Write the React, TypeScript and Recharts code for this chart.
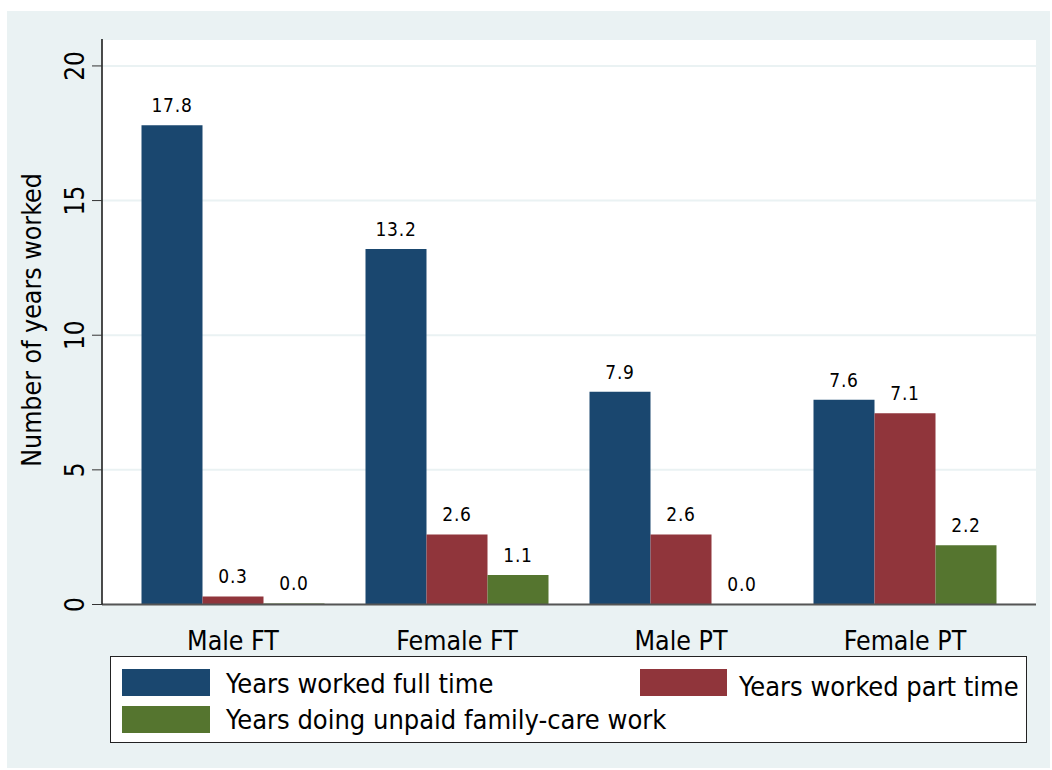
import { BarChart, Bar, XAxis, YAxis, CartesianGrid, LabelList } from 'recharts';

const categories = ['Male FT', 'Female FT', 'Male PT', 'Female PT'];
const fullTime = [17.8, 13.2, 7.9, 7.6];
const partTime = [0.3, 2.6, 2.6, 7.1];
// near-zero values read as 0.0 in the picture (a sliver is visible for Male FT)
const unpaidCare = [0.04, 1.1, 0.001, 2.2];
const yTicks = [0, 5, 10, 15, 20];

const COLORS = {
  full: '#1A476F',
  part: '#90353B',
  care: '#55752F',
  bg: '#EAF2F3',
};

const FONT = '"DejaVu Sans Condensed", "Liberation Sans", sans-serif';

const data = categories.map((name, i) => ({
  name,
  full: fullTime[i],
  part: partTime[i],
  care: unpaidCare[i],
}));

const fmt = (v: number) => v.toFixed(1);

const YTick = ({ y, payload }: any) => (
  <g>
    <text
      x={68}
      y={y}
      transform={`rotate(-90, 68, ${y})`}
      textAnchor="middle"
      dominantBaseline="central"
      fontFamily={FONT}
      fontSize={26}
      fill="#000"
    >
      {payload.value}
    </text>
  </g>
);

const XTick = ({ x, y, payload }: any) => (
  <text
    x={x}
    y={y + 28}
    textAnchor="middle"
    dominantBaseline="central"
    fontFamily={FONT}
    fontSize={26.5}
    fill="#000"
  >
    {payload.value}
  </text>
);

const legendItems = [
  { label: 'Years worked full time', color: COLORS.full, left: 11, top: 12, w: 88, textLeft: 115, textTop: 26 },
  { label: 'Years worked part time', color: COLORS.part, left: 529, top: 12, w: 87, textLeft: 628, textTop: 29 },
  { label: 'Years doing unpaid family-care work', color: COLORS.care, left: 11, top: 49, w: 88, textLeft: 115, textTop: 62 },
];

const labelStyle = { fontFamily: FONT, fontSize: 19, fill: '#000', letterSpacing: 0.8 };

export default function App() {
  return (
    <div
      style={{
        position: 'absolute',
        left: 7,
        top: 11,
        width: 1043,
        height: 757,
        background: COLORS.bg,
      }}
    >
      <BarChart
        width={1043}
        height={757}
        data={data}
        margin={{ top: 28, right: 14, left: 35, bottom: 123.5 }}
        barCategoryGap={20.5}
        barGap={0}
      >
        <CartesianGrid
          vertical={false}
          fill="#ffffff"
          stroke={COLORS.bg}
          strokeWidth={2}
        />
        <XAxis
          dataKey="name"
          padding={{ left: 19, right: 19 }}
          height={40}
          tickLine={false}
          axisLine={{ stroke: '#555', strokeWidth: 2 }}
          tick={<XTick />}
          interval={0}
        />
        <YAxis
          width={60}
          domain={[0, 21]}
          ticks={yTicks}
          tickSize={10}
          tickLine={{ stroke: '#333' }}
          axisLine={{ stroke: '#111', strokeWidth: 1.5 }}
          tick={<YTick />}
          label={{
            content: () => (
              <text
                x={24}
                y={309}
                transform="rotate(-90, 24, 309)"
                textAnchor="middle"
                dominantBaseline="central"
                fontFamily={FONT}
                fontSize={26.5}
                fill="#000"
              >
                Number of years worked
              </text>
            ),
          }}
        />
        <Bar dataKey="full" fill={COLORS.full} isAnimationActive={false}>
          <LabelList dataKey="full" position="top" offset={13} formatter={fmt} style={labelStyle} />
        </Bar>
        <Bar dataKey="part" fill={COLORS.part} isAnimationActive={false}>
          <LabelList dataKey="part" position="top" offset={13} formatter={fmt} style={labelStyle} />
        </Bar>
        <Bar dataKey="care" fill={COLORS.care} isAnimationActive={false}>
          <LabelList dataKey="care" position="top" offset={13} formatter={fmt} style={labelStyle} />
        </Bar>
      </BarChart>
      <div
        style={{
          position: 'absolute',
          left: 103,
          top: 645,
          width: 917,
          height: 87,
          boxSizing: 'border-box',
          border: '1px solid #222',
          background: '#fff',
          fontFamily: FONT,
          fontSize: 27,
          color: '#000',
        }}
      >
        {legendItems.map((it) => (
          <div key={it.label}>
            <div
              style={{
                position: 'absolute',
                left: it.left,
                top: it.top,
                width: it.w,
                height: 27,
                background: it.color,
              }}
            />
            <div
              style={{
                position: 'absolute',
                left: it.textLeft,
                top: it.textTop,
                transform: 'translateY(-50%)',
                whiteSpace: 'nowrap',
                lineHeight: 1,
              }}
            >
              {it.label}
            </div>
          </div>
        ))}
      </div>
    </div>
  );
}
